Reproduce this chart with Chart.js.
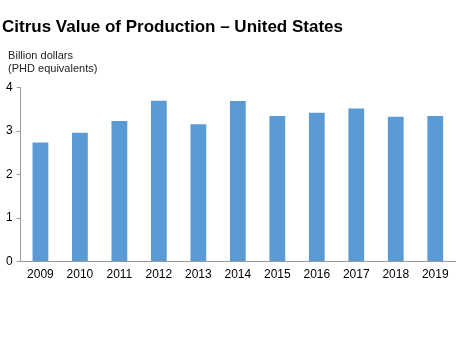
<!DOCTYPE html>
<html>
<head>
<meta charset="utf-8">
<script src="https://cdn.jsdelivr.net/npm/chart.js@4"></script>
<style>
  html, body { margin: 0; padding: 0; background: #fff; }
  #wrap { width: 460px; height: 340px; }
</style>
</head>
<body>
<div id="wrap"><canvas id="chart"></canvas></div>
<script>
const years = ['2009', '2010', '2011', '2012', '2013', '2014', '2015', '2016', '2017', '2018', '2019']
const values = [2.74, 2.96, 3.23, 3.70, 3.16, 3.69, 3.35, 3.42, 3.52, 3.33, 3.35]
const yTicks = [0, 1, 2, 3, 4]

const ctx = document.getElementById('chart')
new Chart(ctx, {
  type: 'bar',
  data: {
    labels: years,
    datasets: [{
      label: 'Value of production',
      data: values,
      backgroundColor: '#5b9bd5',
      barPercentage: 0.4,
      categoryPercentage: 1.0
    }]
  },
  options: {
    responsive: true,
    maintainAspectRatio: false,
    animation: false,
    layout: {
      padding: { left: 2, right: 5, top: 0, bottom: 52 }
    },
    plugins: {
      legend: { display: false },
      tooltip: { enabled: false },
      title: {
        display: true,
        text: 'Citrus Value of Production \u2013 United States',
        align: 'start',
        color: '#000',
        font: { family: 'Liberation Sans', size: 17, weight: 'bold' },
        padding: { top: 17, bottom: 13 }
      },
      subtitle: {
        display: true,
        text: ['  Billion dollars', '  (PHD equivalents)'],
        align: 'start',
        color: '#222',
        font: { family: 'Liberation Sans', size: 11, lineHeight: 1.1 },
        padding: { bottom: 13 }
      }
    },
    scales: {
      x: {
        grid: { display: false, drawTicks: false },
        border: { color: '#999' },
        ticks: {
          color: '#000',
          font: { family: 'Liberation Sans', size: 12 },
          padding: 6
        }
      },
      y: {
        min: 0,
        max: 4,
        afterBuildTicks: axis => { axis.ticks = yTicks.map(v => ({ value: v })) },
        grid: { drawOnChartArea: false, tickLength: 4, color: '#999' },
        border: { color: '#999' },
        ticks: {
          color: '#000',
          font: { family: 'Liberation Sans', size: 12 },
          padding: 4
        }
      }
    }
  }
})
</script>
</body>
</html>
